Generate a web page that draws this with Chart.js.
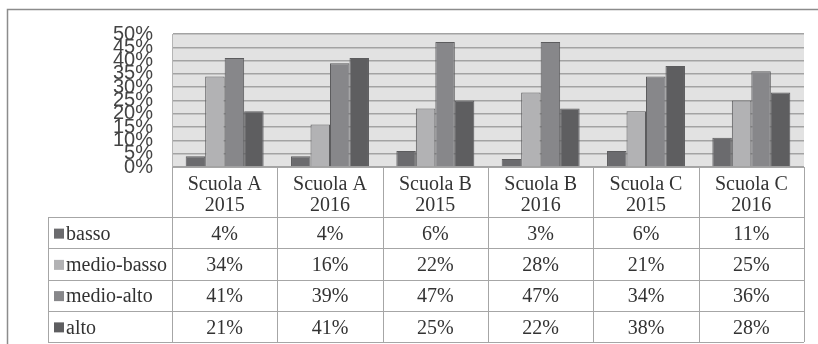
<!DOCTYPE html>
<html>
<head>
<meta charset="utf-8">
<script src="https://cdn.jsdelivr.net/npm/chart.js@4/dist/chart.umd.min.js"></script>
<style>
  html, body { margin: 0; padding: 0; background: #fff; }
  canvas { display: block; }
</style>
</head>
<body>
<canvas id="livelli" width="818" height="344"></canvas>
<script>
// categorie e valori (%)
var categorie = [['Scuola A', '2015'], ['Scuola A', '2016'], ['Scuola B', '2015'],
                 ['Scuola B', '2016'], ['Scuola C', '2015'], ['Scuola C', '2016']];
var serie = ['basso', 'medio-basso', 'medio-alto', 'alto'];
var basso = [4, 4, 6, 3, 6, 11];
var medioBasso = [34, 16, 22, 28, 21, 25];
var medioAlto = [41, 39, 47, 47, 34, 36];
var alto = [21, 41, 25, 22, 38, 28];
var yMax = 50, yStep = 5;

var colori = ['#6b6b6e', '#b2b2b4', '#87878a', '#5e5e60'];
var valori = [basso, medioBasso, medioAlto, alto];

var serifFont = "'Liberation Serif', 'Times New Roman', serif";

// sfondo grigio dell'area e cornice esterna
var sfondo = {
    id: 'sfondo',
    beforeDraw: function (chart) {
        var ctx = chart.ctx, a = chart.chartArea;
        ctx.save();
        ctx.fillStyle = '#e2e2e2';
        ctx.fillRect(a.left, a.top, a.right - a.left, a.bottom - a.top);
        ctx.strokeStyle = '#8c8c8c';
        ctx.lineWidth = 1.5;
        ctx.beginPath();
        ctx.moveTo(7.5, chart.height);
        ctx.lineTo(7.5, 9.5);
        ctx.lineTo(chart.width, 9.5);
        ctx.stroke();
        ctx.restore();
    }
};

// tabella dati sotto il grafico
var tabella = {
    id: 'tabella',
    afterDraw: function (chart) {
        var ctx = chart.ctx, a = chart.chartArea, x = chart.scales.x;
        var headBottom = 217, rowH = 31.25, tabLeft = 48;
        var bottom = headBottom + rowH * serie.length;
        ctx.save();
        ctx.strokeStyle = '#a6a6a6';
        ctx.lineWidth = 1;

        ctx.beginPath();
        ctx.moveTo(a.left, a.bottom + 0.5);
        ctx.lineTo(a.right, a.bottom + 0.5);
        for (var r = 0; r <= serie.length; r++) {
            var yy = Math.round(headBottom + r * rowH) + 0.5;
            ctx.moveTo(tabLeft, yy);
            ctx.lineTo(a.right, yy);
        }
        ctx.moveTo(tabLeft + 0.5, headBottom);
        ctx.lineTo(tabLeft + 0.5, bottom);
        for (var k = 0; k <= categorie.length; k++) {
            var xx = Math.round(x.getPixelForValue(k - 0.5)) + 0.5;
            ctx.moveTo(xx, a.bottom);
            ctx.lineTo(xx, bottom);
        }
        ctx.stroke();

        ctx.font = '20px ' + serifFont;
        ctx.textBaseline = 'middle';
        serie.forEach(function (nome, i) {
            var cy = headBottom + i * rowH + rowH / 2 + 2;
            ctx.fillStyle = colori[i];
            ctx.fillRect(54, cy - 6, 10, 10);
            ctx.fillStyle = '#333';
            ctx.textAlign = 'left';
            ctx.fillText(nome, 66, cy);
            ctx.textAlign = 'center';
            valori[i].forEach(function (v, j) {
                ctx.fillText(v + '%', x.getPixelForValue(j), cy);
            });
        });
        ctx.restore();
    }
};

var ctx = document.getElementById('livelli').getContext('2d');
new Chart(ctx, {
    type: 'bar',
    data: {
        labels: categorie,
        datasets: serie.map(function (nome, i) {
            return {
                label: nome,
                data: valori[i],
                backgroundColor: colori[i],
                borderColor: '#5c5c5e',
                borderWidth: 1,
                barPercentage: 1,
                categoryPercentage: 0.74
            };
        })
    },
    options: {
        responsive: false,
        animation: false,
        layout: { padding: { top: 34, right: 14, left: 0, bottom: 0 } },
        plugins: {
            legend: { display: false },
            tooltip: { enabled: false }
        },
        scales: {
            x: {
                grid: { display: false, drawTicks: false },
                border: { display: false },
                ticks: {
                    padding: 7,
                    color: '#333',
                    font: { family: serifFont, size: 20, lineHeight: 1.05 },
                    maxRotation: 0,
                    autoSkip: false
                },
                afterFit: function (scale) { scale.height = 344 - 167; }
            },
            y: {
                min: 0,
                max: yMax,
                grid: { color: '#a3a3a3', lineWidth: 1.5, drawTicks: false },
                border: { display: true, color: '#b5b5b5', width: 1 },
                ticks: {
                    stepSize: yStep,
                    autoSkip: false,
                    padding: 19,
                    color: '#444',
                    font: { family: "'Liberation Sans', Arial, sans-serif", size: 20 },
                    callback: function (v) { return v + '%'; }
                },
                afterFit: function (scale) { scale.width = 172; }
            }
        }
    },
    plugins: [sfondo, tabella]
});
</script>
</body>
</html>
